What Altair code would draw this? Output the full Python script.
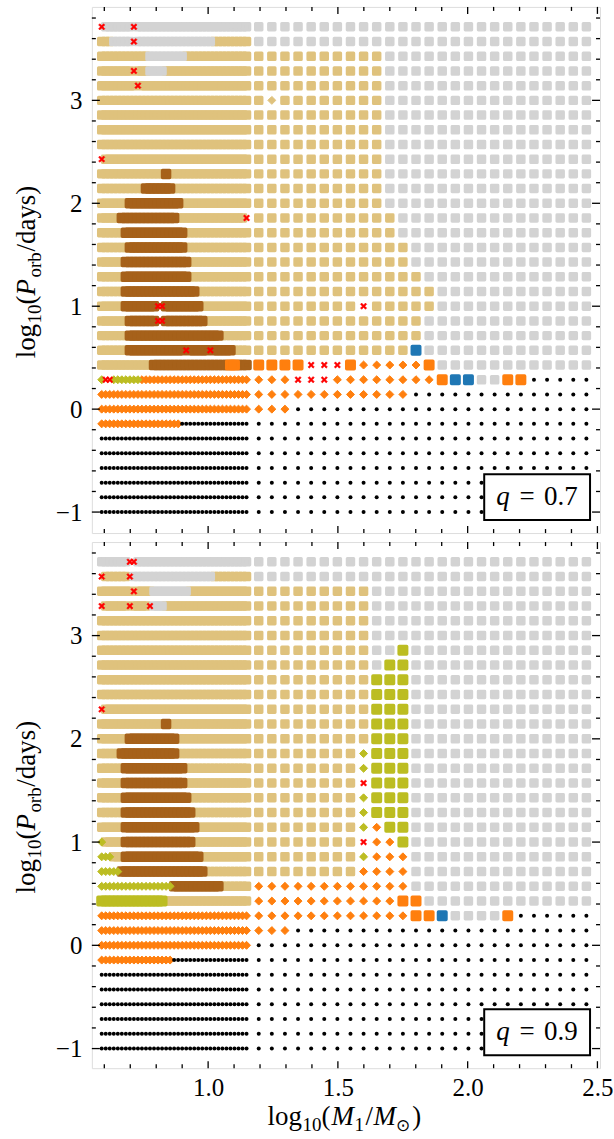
import altair as alt
import pandas as pd

# Model grid: dense low-mass columns, coarse high-mass columns, log P rows every 1/7 dex
FINE_X0, FINE_DX, FINE_N = 0.59, 0.0155, 37
COARSE_X0, COARSE_DX, COARSE_N = 1.195, 0.0505, 26
LOGP_LOW, LOGP_STEP = -1.0, 1.0 / 7.0

# Outcome codes per grid cell, run-length encoded, rows from the longest period down.
# T stable MT, G no interaction, B brown class, t tan diamond, O/U/V big squares,
# D/W diamonds, R red cross, K merger dot
fine_q07 = [
    "R G7 R G28", "T3 G5 R G19 T9", "T12 G9 T16", "T8 R T3 G4 T21", "T9 R T27",
    "T37", "T37", "T37", "T37", "R T36",
    "T16 B T20", "T11 B7 T19", "T7 B13 T17", "T5 B14 T17 R", "T6 B15 T16",
    "T7 B14 T16", "T6 B16 T15", "T6 B16 T15", "T6 B18 T13", "T6 B8 R2 B9 T12",
    "T7 B7 R2 B10 T11", "T7 B23 T7", "T7 B14 R B5 R B5 T4", "T13 B19 O2 B3", "W R2 W7 D27",
    "D37", "D37", "D20 K17", "K37", "K37", "K37", "K37", "K37", "K37",
]
coarse_q07 = [
    "G26", "G26", "T10 G16", "T10 G16", "T10 G16",
    "T t T8 G16", "T10 G16", "T10 G16", "T10 G16", "T10 G16",
    "T10 G16", "T10 G16", "T10 G16", "T11 G15", "T11 G15",
    "T12 G14", "T12 G14", "T13 G13", "T14 G12", "T8 R T5 G12",
    "T13 G13", "T13 G13", "T12 U G13", "O4 R3 O D5 O G12", "D3 R3 D8 O U2 G2 O2 K5",
    "D12 K14", "D3 K23", "K26", "K26", "K26", "K26", "K26", "K26", "K26",
]
fine_q09 = [
    "G7 R2 G28", "R T6 R G20 T9", "T8 R T4 G9 T15", "R T6 R T4 R G3 T21", "T37",
    "T37", "T37", "T37", "T37", "T37",
    "R T36", "T16 B T20", "T7 B12 T18", "T5 B14 T18", "T6 B15 T16",
    "T6 B15 T16", "T6 B16 T15", "T6 B17 T14", "T6 B18 T13", "W T5 B17 T14",
    "W3 T3 B19 T12", "W5 B21 T11", "W18 B12 T7", "V16 T21", "D37",
    "D37", "D37", "D18 K19", "K37", "K37", "K37", "K37", "K37", "K37",
]
coarse_q09 = [
    "G26", "G26", "T9 G17", "T9 G17", "T9 G17",
    "T9 G17", "T9 G2 V G14", "T9 G V2 G14", "T9 V3 G14", "T9 V3 G14",
    "T9 V3 G14", "T9 V3 G14", "T9 V3 G14", "T8 W V3 G14", "T8 W V3 G14",
    "T8 R V3 G14", "T8 W V3 G14", "T8 W V3 G14", "T8 W D V2 G14", "T8 R D2 V G14",
    "T8 W D3 G14", "T8 D4 G14", "D12 G14", "D11 O2 G13", "D12 O2 U G4 O K6",
    "D3 K23", "K26", "K26", "K26", "K26", "K26", "K26", "K26", "K26",
]
q_values = ["0.7", "0.9"]

x_major = [1.0, 1.5, 2.0, 2.5]
x_minor = [0.6, 0.7, 0.8, 0.9, 1.1, 1.2, 1.3, 1.4, 1.6, 1.7, 1.8, 1.9, 2.1, 2.2, 2.3, 2.4]
y_major = [-1, 0, 1, 2, 3]
y_minor = [-0.8, -0.6, -0.4, -0.2, 0.2, 0.4, 0.6, 0.8, 1.2, 1.4, 1.6, 1.8,
           2.2, 2.4, 2.6, 2.8, 3.2, 3.4, 3.6, 3.8]

TAN, BROWN, GREY = "#dfc27d", "#a6611a", "#d3d3d3"
ORANGE, BLUE, OLIVE, RED = "#ff7f0e", "#1f77b4", "#bcbd22", "#ff0000"
X_SHAPE = ("M-1,-0.6L-0.6,-1L0,-0.4L0.6,-1L1,-0.6L0.4,0L1,0.6L0.6,1"
           "L0,0.4L-0.6,1L-1,0.6L-0.4,0Z")

STYLE = {
    "T": ("square", 42, TAN, 3.0),
    "G": ("square", 42, GREY, 3.0),
    "B": ("square", 49, BROWN, 3.5),
    "t": ("diamond", 64, TAN, 1.0),
    "O": ("square", 56, ORANGE, 3.5),
    "U": ("square", 56, BLUE, 3.5),
    "V": ("square", 56, OLIVE, 3.5),
    "D": ("diamond", 64, ORANGE, 1.0),
    "W": ("diamond", 64, OLIVE, 1.0),
    "R": (X_SHAPE, 40, RED, 0.5),
    "K": ("circle", 16, "black", 0.0),
}
ORDER = "TGBtOUVDWRK"

W, H = 509, 527
FONT = "Liberation Serif"
X_DOMAIN = [0.552, 2.51]


def expand(row, n):
    out = []
    for tok in row.split():
        out += [tok[0]] * int(tok[1:] or 1)
    return (out + ["."] * n)[:n]


def cells(fine, coarse):
    recs = []
    nrow = len(fine)
    for r in range(nrow):
        logp = LOGP_LOW + (nrow - 1 - r) * LOGP_STEP
        for i, c in enumerate(expand(fine[r], FINE_N)):
            if c != ".":
                recs.append((FINE_X0 + i * FINE_DX, logp, c))
        for j, c in enumerate(expand(coarse[r], COARSE_N)):
            if c != ".":
                recs.append((COARSE_X0 + j * COARSE_DX, logp, c))
    return pd.DataFrame(recs, columns=["m", "p", "code"])


ONE = pd.DataFrame({"k": [0]})


def text(s, x, y, size=27, italic=False, angle=0, align="left"):
    props = dict(text=s, font=FONT, fontSize=size, align=align, baseline="alphabetic",
                 color="black", angle=angle)
    if italic:
        props["fontStyle"] = "italic"
    return alt.Chart(ONE).mark_text(**props).encode(x=alt.value(x), y=alt.value(y))


def panel(fine, coarse, q, ydom, bottom):
    df = cells(fine, coarse)
    xs = alt.Scale(domain=X_DOMAIN, nice=False, zero=False)
    ys = alt.Scale(domain=ydom, nice=False, zero=False)
    lab = dict(ticks=False, domain=False, grid=False, labelFont=FONT, labelFontSize=25,
               labelColor="black", title=None, tickSize=0)
    xaxis = alt.Axis(values=x_major, format=".1f", labelPadding=7, **lab) if bottom else None
    yaxis = alt.Axis(values=y_major, format="d", labelPadding=10, **lab)
    X = alt.X("m:Q", scale=xs, axis=xaxis)
    Y = alt.Y("p:Q", scale=ys, axis=yaxis)

    layers = []
    present = set(df["code"])
    for code in ORDER:
        if code not in present:
            continue
        shape, size, col, sw = STYLE[code]
        layers.append(
            alt.Chart(df).transform_filter(alt.datum.code == code)
            .mark_point(shape=shape, size=size, filled=True, fill=col, stroke=col,
                        strokeWidth=sw, strokeJoin="round", opacity=1)
            .encode(x=X, y=Y)
        )

    # inward ticks on all four sides
    for vals, L in ((x_major, 7), (x_minor, 4)):
        r = alt.Chart(pd.DataFrame({"m": vals})).mark_rule(color="black", strokeWidth=1.3)
        layers.append(r.encode(x=X, y=alt.value(0), y2=alt.value(L)))
        layers.append(r.encode(x=X, y=alt.value(H), y2=alt.value(H - L)))
    for vals, L in ((y_major, 8), (y_minor, 4)):
        vals = [v for v in vals if ydom[0] <= v <= ydom[1]]
        r = alt.Chart(pd.DataFrame({"p": vals})).mark_rule(color="black", strokeWidth=1.3)
        layers.append(r.encode(y=Y, x=alt.value(0), x2=alt.value(L)))
        layers.append(r.encode(y=Y, x=alt.value(W), x2=alt.value(W - L)))

    # q label box
    layers.append(
        alt.Chart(ONE).mark_rect(fill="white", stroke="black", strokeWidth=2)
        .encode(x=alt.value(393), x2=alt.value(499), y=alt.value(468), y2=alt.value(514))
    )
    layers.append(text("q", 405, 499, italic=True))
    layers.append(text("=", 436, 499, align="center"))
    layers.append(text(q, 453, 499))

    # y title: log10(P_orb/days), rotated
    xb, xs_ = -57, -51
    y0 = 352
    layers += [
        text("log", xb, y0, angle=270),
        text("10", xs_, y0 - 35, size=19, angle=270),
        text("(", xb, y0 - 54, angle=270),
        text("P", xb, y0 - 63, italic=True, angle=270),
        text("orb", xs_, y0 - 81, size=19, angle=270),
        text("/days)", xb, y0 - 107, angle=270),
    ]

    if bottom:
        yb, ysb = 584, 590
        x0 = 176
        layers += [
            text("log", x0, yb),
            text("10", x0 + 35, ysb, size=19),
            text("(", x0 + 54, yb),
            text("M", x0 + 64, yb, italic=True),
            text("1", x0 + 87, ysb, size=19),
            text("/", x0 + 98, yb),
            text("M", x0 + 106, yb, italic=True),
            text("\u2299", x0 + 129, ysb, size=17),
            text(")", x0 + 145, yb),
        ]

    return alt.layer(*layers).properties(width=W, height=H)


top = panel(fine_q07, coarse_q07, q_values[0], [-1.204, 3.908], False)
bot = panel(fine_q09, coarse_q09, q_values[1], [-1.19, 3.906], True)

chart = (
    alt.vconcat(top, bot, spacing=5)
    .properties(padding={"left": 12, "top": 4, "right": 0, "bottom": 0})
    .configure_view(stroke="black", strokeWidth=1.8)
    .configure(background="white")
)

chart.save("out.html", embed_options={"renderer": "svg", "actions": False})
